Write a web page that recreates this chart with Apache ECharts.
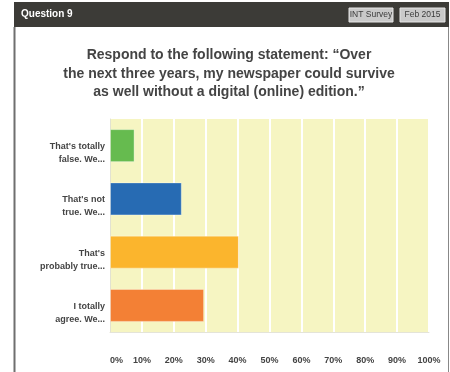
<!DOCTYPE html>
<html>
<head>
<meta charset="utf-8">
<script src="https://cdn.jsdelivr.net/npm/echarts@6/dist/echarts.min.js"></script>
<style>
  html, body { margin: 0; padding: 0; background: #fff; }
  #main { width: 450px; height: 372px; }
</style>
</head>
<body>
<div id="main"></div>
<script>
// answers, top to bottom
var categories = ["That's totally\nfalse. We...", "That's not\ntrue. We...", "That's\nprobably true...", "I totally\nagree. We..."];
var values = [7.7, 22.5, 40.4, 29.5];
var barColors = ['#66bb4f', '#276bb3', '#fbb52d', '#f38035'];
var titleText = 'Respond to the following statement: \u201cOver\nthe next three years, my newspaper could survive\nas well without a digital (online) edition.\u201d';

var font = '"Liberation Sans", Arial, sans-serif';

var chart = echarts.init(document.getElementById('main'));
var option = {
    animation: false,
    title: {
        text: titleText,
        left: 224,
        top: 41,
        textAlign: 'center',
        textStyle: {
            fontFamily: font,
            fontSize: 14,
            fontWeight: 'bold',
            color: '#444',
            lineHeight: 18.5
        }
    },
    graphic: [
        // header bar
        { type: 'rect', shape: { x: 14, y: 2, width: 435, height: 25 }, style: { fill: '#3c3b37' } },
        { type: 'text', left: 21, top: 9, style: { text: 'Question 9', fill: '#fff', font: 'bold 10px ' + font } },
        { type: 'rect', shape: { x: 349, y: 8, width: 44, height: 14 }, style: { fill: '#c9c9c9', stroke: '#e6e6e6', lineWidth: 1 } },
        { type: 'text', x: 371, y: 15, style: { text: 'INT Survey', fill: '#3a3a3a', font: '8.5px ' + font, align: 'center', verticalAlign: 'middle' } },
        { type: 'rect', shape: { x: 400, y: 8, width: 45, height: 14 }, style: { fill: '#c9c9c9', stroke: '#e6e6e6', lineWidth: 1 } },
        { type: 'text', x: 422.5, y: 15, style: { text: 'Feb 2015', fill: '#3a3a3a', font: '8.5px ' + font, align: 'center', verticalAlign: 'middle' } },
        // frame sides
        { type: 'line', shape: { x1: 14.5, y1: 27, x2: 14.5, y2: 372 }, style: { stroke: '#6f6f6f', lineWidth: 2 } },
        { type: 'line', shape: { x1: 448.5, y1: 27, x2: 448.5, y2: 372 }, style: { stroke: '#888', lineWidth: 1 } }
    ],
    grid: {
        left: 110,
        top: 119,
        width: 319,
        height: 213,
        show: true,
        backgroundColor: '#f6f5c2',
        borderWidth: 0
    },
    xAxis: {
        type: 'value',
        min: 0,
        max: 100,
        interval: 10,
        axisLine: { show: true, lineStyle: { color: '#e4e4d8', width: 1 } },
        axisTick: { show: false },
        splitLine: { show: true, lineStyle: { color: '#ffffff', width: 2 } },
        axisLabel: {
            formatter: '{value}%',
            margin: 24,
            alignMinLabel: 'left',
            fontFamily: font,
            fontSize: 9,
            fontWeight: 'bold',
            color: '#444'
        }
    },
    yAxis: {
        type: 'category',
        inverse: true,
        data: categories,
        axisLine: { show: true, lineStyle: { color: '#e2e2d2', width: 1 } },
        axisTick: { show: false },
        axisLabel: {
            margin: 5,
            align: 'right',
            formatter: function (v) {
                var lines = v.split('\n');
                return '{s| }\n{l|' + lines[0] + '}\n{l|' + lines[1] + '}';
            },
            rich: {
                s: { fontSize: 9, lineHeight: 15 },
                l: { fontFamily: font, fontSize: 9, fontWeight: 'bold', color: '#444', lineHeight: 13, align: 'right' }
            }
        }
    },
    series: [{
        type: 'bar',
        data: values.map(function (v, i) {
            return { value: v, itemStyle: { color: barColors[i] } };
        }),
        barWidth: 33,
        itemStyle: { borderColor: 'rgba(255,255,255,0.35)', borderWidth: 1 }
    }]
};
chart.setOption(option);
</script>
</body>
</html>
